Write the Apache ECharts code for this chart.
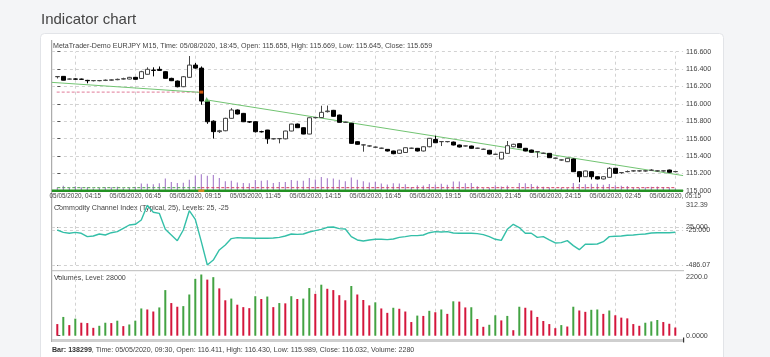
<!DOCTYPE html>
<html><head><meta charset="utf-8">
<script src="https://cdn.jsdelivr.net/npm/echarts@6/dist/echarts.min.js"></script>
<style>html,body{margin:0;padding:0;background:#f4f5f7;}#c{width:770px;height:357px;}</style>
</head><body><div id="c"></div>
<script>
// ---- data ----
const opens=[116.312,116.316,116.284,116.286,116.284,116.270,116.266,116.266,116.270,116.272,
116.278,116.285,116.285,116.305,116.292,116.340,116.388,116.397,116.370,116.293,
116.262,116.197,116.305,116.446,116.411,116.024,115.800,115.680,115.690,115.833,
115.929,115.890,115.794,115.794,115.680,115.698,115.597,115.598,115.597,115.687,
115.767,115.725,115.652,115.840,115.842,115.910,115.925,115.871,115.787,115.776,
115.564,115.526,115.514,115.500,115.488,115.476,115.457,115.430,115.440,115.488,
115.488,115.457,115.506,115.590,115.564,115.564,115.560,115.526,115.514,115.514,
115.488,115.476,115.465,115.418,115.365,115.430,115.506,115.541,115.488,115.468,
115.449,115.430,115.430,115.373,115.353,115.334,115.365,115.219,115.161,115.219,
115.161,115.135,115.154,115.258,115.207,115.219,115.227,115.227,115.227,115.235,
115.227,115.227,115.238,115.219];
const highs=[116.316,116.320,116.292,116.292,116.290,116.276,116.274,116.274,116.280,116.282,
116.290,116.300,116.310,116.310,116.380,116.420,116.420,116.430,116.375,116.300,
116.268,116.320,116.550,116.470,116.430,116.030,115.810,115.700,115.840,115.950,
115.935,115.895,115.800,115.800,115.690,115.700,115.605,115.606,115.690,115.770,
115.772,115.730,115.842,115.848,115.978,115.980,115.930,115.875,115.795,115.780,
115.568,115.535,115.522,115.508,115.495,115.480,115.460,115.470,115.498,115.495,
115.492,115.510,115.606,115.633,115.570,115.572,115.565,115.530,115.520,115.518,
115.494,115.484,115.470,115.424,115.445,115.572,115.540,115.546,115.492,115.472,
115.456,115.438,115.434,115.380,115.360,115.376,115.370,115.224,115.230,115.224,
115.165,115.165,115.270,115.262,115.214,115.232,115.236,115.236,115.236,115.248,
115.236,115.234,115.242,115.226];
const lows=[116.292,116.270,116.278,116.280,116.276,116.236,116.258,116.260,116.262,116.266,
116.272,116.280,116.282,116.280,116.290,116.336,116.316,116.380,116.290,116.262,
116.190,116.192,116.300,116.405,115.989,115.770,115.600,115.665,115.685,115.830,
115.878,115.790,115.780,115.670,115.670,115.540,115.590,115.545,115.592,115.684,
115.722,115.650,115.650,115.832,115.838,115.900,115.853,115.785,115.780,115.540,
115.530,115.449,115.505,115.492,115.480,115.452,115.420,115.425,115.436,115.480,
115.452,115.452,115.500,115.548,115.514,115.556,115.522,115.498,115.508,115.484,
115.480,115.470,115.418,115.412,115.360,115.428,115.500,115.492,115.454,115.438,
115.380,115.424,115.378,115.366,115.346,115.330,115.215,115.097,115.158,115.130,
115.130,115.130,115.150,115.196,115.195,115.212,115.220,115.220,115.220,115.228,
115.220,115.220,115.208,115.212];
const closes=[116.314,116.272,116.286,116.284,116.282,116.266,116.268,116.268,116.272,116.276,
116.282,116.289,116.305,116.282,116.370,116.397,116.385,116.385,116.293,116.266,
116.197,116.312,116.446,116.411,116.032,115.794,115.680,115.690,115.833,115.929,
115.883,115.794,115.790,115.679,115.678,115.597,115.598,115.600,115.687,115.767,
115.725,115.652,115.840,115.842,115.902,115.917,115.856,115.787,115.788,115.545,
115.534,115.528,115.516,115.502,115.490,115.457,115.426,115.468,115.495,115.490,
115.457,115.506,115.603,115.552,115.566,115.566,115.526,115.503,115.516,115.488,
115.490,115.478,115.422,115.420,115.442,115.518,115.534,115.495,115.457,115.442,
115.451,115.432,115.380,115.375,115.355,115.373,115.219,115.161,115.227,115.161,
115.135,115.161,115.258,115.200,115.209,115.221,115.229,115.229,115.229,115.237,
115.229,115.229,115.212,115.221];
const volumes=[433,699,395,635,483,471,293,369,483,470,
559,357,418,559,1015,977,901,1053,1699,1216,
1079,1102,1535,2117,2280,2090,2181,1763,1319,1383,
1155,1064,1026,1471,1368,1459,1064,1216,1205,1471,
1368,1383,1775,1558,1900,1748,1699,1509,1319,1851,
1535,1330,1129,1243,1015,851,1041,1003,901,509,
749,737,927,874,977,813,1281,1270,1053,1060,
623,331,407,760,570,737,205,1079,1041,939,
699,547,433,281,395,342,1079,939,889,965,
977,813,939,760,673,646,433,369,483,532,
585,509,445,304];
const cci=[-18,-49,-62,-49,-62,-107,-98,-71,-85,-54,
-40,5,49,58,116,312.39,219,205,-9,-85,
-161,-18,240,125,-174,-486.07,-420,-285,-219,-133,
-120,-125,-125,-129,-129,-129,-125,-116,-98,-71,
-76,-71,-45,-27,-9,18,22,0,-5,-107,
-151,-165,-151,-142,-142,-147,-138,-116,-107,-93,
-93,-85,-54,-40,-45,-40,-58,-62,-62,-62,
-67,-80,-107,-142,-156,-9,58,14,-62,-62,
-116,-107,-151,-191,-187,-160,-227,-281,-209,-209,
-205,-174,-107,-102,-98,-89,-85,-76,-71,-58,
-54,-54,-54,-49];
const tickIdx=[3,13,23,33,43,53,63,73,83,93,103];
const timeLabels=['05/05/2020, 04:15','05/05/2020, 06:45','05/05/2020, 09:15','05/05/2020, 11:45',
'05/05/2020, 14:15','05/05/2020, 16:45','05/05/2020, 19:15','05/05/2020, 21:45',
'05/06/2020, 24:15','05/06/2020, 02:45','05/06/2020, 05:15'];
const cciLevels=[25,-25];
const cciTicks=[312.39,25,-25,-486.07];
const volTicks=[0,2200];
const trendLine1=[[-0.9,116.247],[23.8,116.132]];
const trendLine2=[[24.9,116.045],[104.3,115.174]];
const pinkLine=[[-0.1,116.135],[23.5,116.135]];
const orangeMark=[[24,116.135]];
const greenMark=[[24.9,116.05]];
const overlayLevel=420;
const hoverBar=24;
const hoverTime='05/05/2020, 09:30';

// ---- chart ----
const N=opens.length, idx=opens.map((_,i)=>i);
const candleData=idx.map(i=>[i,opens[i],closes[i],lows[i],highs[i]]);
const volData=idx.map(i=>[i,volumes[i]]);
const cciData=idx.map(i=>[i,cci[i]]);
const F='Liberation Sans', FS=7.1, FT=6.4, TC='#444';
const L=51.9, W=631.2, XMIN=-0.9, XMAX=104.3;
const gStyle={color:'#d2d2d2',type:[3,3],width:1};
const vLines=(extra)=>({silent:true,z:1,symbol:['none','none'],label:{show:false},lineStyle:gStyle,animation:false,
  emphasis:{disabled:true},data:tickIdx.map(v=>({xAxis:v})).concat(extra||[])});
const p5=v=>Number(v).toPrecision(5);
const xAx=(g,showLab)=>({type:'value',gridIndex:g,min:XMIN,max:XMAX,show:!!showLab,
  axisLine:{show:true,lineStyle:{color:'#aaa'}},axisTick:{show:false},splitLine:{show:false},
  axisLabel:{show:!!showLab,customValues:tickIdx,margin:3,fontSize:FT,fontFamily:F,color:TC,
   formatter:v=>timeLabels[tickIdx.indexOf(Math.round(v))]||''}});
const grids=[[51.7,139],[174.3,16.4],[205.3,59.7],[274.5,61.2]].map(([t,h])=>({left:L,top:t,width:W,height:h,containLabel:false,outerBoundsMode:'none'}));
const chart=echarts.init(document.getElementById('c'),null,{renderer:'canvas'});
const B=hoverBar;
chart.setOption({
 animation:false,
 backgroundColor:'#f4f5f7',
 textStyle:{fontFamily:F},
 graphic:[
  {type:'rect',z:-10,shape:{x:40.5,y:33.5,width:683,height:340,r:4},style:{fill:'#fff',stroke:'#e2e4e8'}},
  {type:'text',style:{x:41,y:20,text:'Indicator chart',fontSize:15,fontFamily:F,fill:'#444',verticalAlign:'middle'}},
  {type:'line',shape:{x1:51.7,y1:40,x2:51.7,y2:342},style:{stroke:'#999',lineWidth:1}},
  {type:'line',shape:{x1:51.7,y1:270.7,x2:684,y2:270.7},style:{stroke:'#bbb',lineWidth:1}},
  {type:'rect',shape:{x:52,y:339,width:632,height:3},style:{fill:'#cfcfcf'}},
  {type:'rect',shape:{x:683,y:337.5,width:1.2,height:5},style:{fill:'#333'}},
  {type:'text',style:{x:53,y:46.5,text:'MetaTrader-Demo EURJPY M15, Time: 05/08/2020, 18:45, Open: 115.655, High: 115.669, Low: 115.645, Close: 115.659',fontSize:FS,fontFamily:F,fill:TC,verticalAlign:'middle'}},
  {type:'text',style:{x:54,y:208.5,text:'Commodity Channel Index (Typical, 25), Levels: 25, -25',fontSize:FS,fontFamily:F,fill:TC,verticalAlign:'middle'}},
  {type:'text',style:{x:54,y:277.7,text:'Volumes, Level: 28000',fontSize:FS,fontFamily:F,fill:TC,verticalAlign:'middle'}},
  {type:'text',style:{x:52,y:350.5,verticalAlign:'middle',fontSize:FS,fontFamily:F,fill:TC,
    text:'{b|Bar: 138299}, Time: '+hoverTime+', Open: '+opens[B].toFixed(3)+', High: '+highs[B].toFixed(3)+', Low: '+lows[B].toFixed(3)+', Close: '+closes[B].toFixed(3)+', Volume: '+volumes[B],
    rich:{b:{fontWeight:'bold',fontSize:FS,fontFamily:F,fill:'#333'}}}}
 ],
 grid:grids,
 xAxis:[xAx(0,true),xAx(1,false),xAx(2,false),xAx(3,false)],
 yAxis:[
  {type:'value',gridIndex:0,position:'right',min:115,max:116.6,interval:0.2,
   axisLine:{show:false},axisTick:{show:true,length:3,lineStyle:{color:'#555'}},
   axisLabel:{margin:3,fontSize:FS,fontFamily:F,color:TC,formatter:v=>v.toFixed(3)},
   splitLine:{show:true,lineStyle:gStyle}},
  {type:'value',gridIndex:1,min:0,max:2280,show:false,splitLine:{show:false}},
  {type:'value',gridIndex:2,position:'right',min:-486.07,max:312.39,
   axisLine:{show:false},axisTick:{show:true,length:3,customValues:cciTicks,lineStyle:{color:'#555'}},
   axisLabel:{customValues:cciTicks,margin:3,fontSize:FS,fontFamily:F,color:TC,formatter:p5},
   splitLine:{show:false}},
  {type:'value',gridIndex:3,position:'right',min:0,max:2280,
   axisLine:{show:false},axisTick:{show:true,length:3,customValues:volTicks,lineStyle:{color:'#555'}},
   axisLabel:{customValues:volTicks,margin:3,fontSize:FS,fontFamily:F,color:TC,formatter:p5},
   splitLine:{show:false}}
 ],
 series:[
  {type:'line',xAxisIndex:0,yAxisIndex:0,data:[],z:1,markLine:vLines()},
  {type:'candlestick',xAxisIndex:0,yAxisIndex:0,data:candleData,encode:{x:0,y:[1,2,3,4]},barWidth:4,z:5,
   itemStyle:{color:'#fff',color0:'#000',borderColor:'#444',borderColor0:'#000',borderColorDoji:'#000',borderWidth:1}},
  {type:'line',xAxisIndex:0,yAxisIndex:0,data:pinkLine,symbol:'none',z:4,lineStyle:{color:'#e07a98',width:1,type:[3,2]}},
  {type:'line',xAxisIndex:0,yAxisIndex:0,data:trendLine1,symbol:'none',z:4,lineStyle:{color:'#72c472',width:1}},
  {type:'line',xAxisIndex:0,yAxisIndex:0,data:trendLine2,symbol:'none',z:4,lineStyle:{color:'#72c472',width:1}},
  {type:'scatter',xAxisIndex:0,yAxisIndex:0,data:orangeMark,symbol:'rect',symbolSize:[4,3],z:6,itemStyle:{color:'#ff6a10'}},
  {type:'scatter',xAxisIndex:0,yAxisIndex:0,data:greenMark,symbol:'triangle',symbolSize:5,z:6,itemStyle:{color:'#4caf50'}},
  {type:'bar',xAxisIndex:1,yAxisIndex:1,data:volData,barWidth:1,z:3,itemStyle:{color:'#9c6cc4'}},
  {type:'line',xAxisIndex:1,yAxisIndex:1,data:idx.filter(i=>i<=B).map(i=>[i,overlayLevel]),symbol:'none',z:4,lineStyle:{color:'#4a9e4a',width:1,type:[3,2]}},
  {type:'line',xAxisIndex:1,yAxisIndex:1,data:idx.filter(i=>i>=B).map(i=>[i,overlayLevel]),symbol:'none',z:4,lineStyle:{color:'#d23a5a',width:1,type:[3,2]}},
  {type:'line',xAxisIndex:1,yAxisIndex:1,data:[[XMIN,0],[XMAX,0]],symbol:'none',z:4,lineStyle:{color:'#239223',width:2.5}},
  {type:'scatter',xAxisIndex:1,yAxisIndex:1,data:[[B,0]],symbol:'rect',symbolSize:[6,2.5],z:5,itemStyle:{color:'#ff8a20'}},
  {type:'line',xAxisIndex:2,yAxisIndex:2,data:[],z:1,markLine:vLines(cciLevels.map(v=>({yAxis:v})).concat([{yAxis:-486.07}]))},
  {type:'line',xAxisIndex:2,yAxisIndex:2,data:cciData,symbol:'none',z:4,lineStyle:{color:'#34bfa8',width:1.4}},
  {type:'line',xAxisIndex:3,yAxisIndex:3,data:[],z:1,markLine:vLines()},
  {type:'bar',xAxisIndex:3,yAxisIndex:3,data:volData,barWidth:2,z:3,
   itemStyle:{color:p=>(p.dataIndex>0&&volumes[p.dataIndex]>volumes[p.dataIndex-1])?'#43a343':'#d4163c'}}
 ]
});
</script></body></html>
